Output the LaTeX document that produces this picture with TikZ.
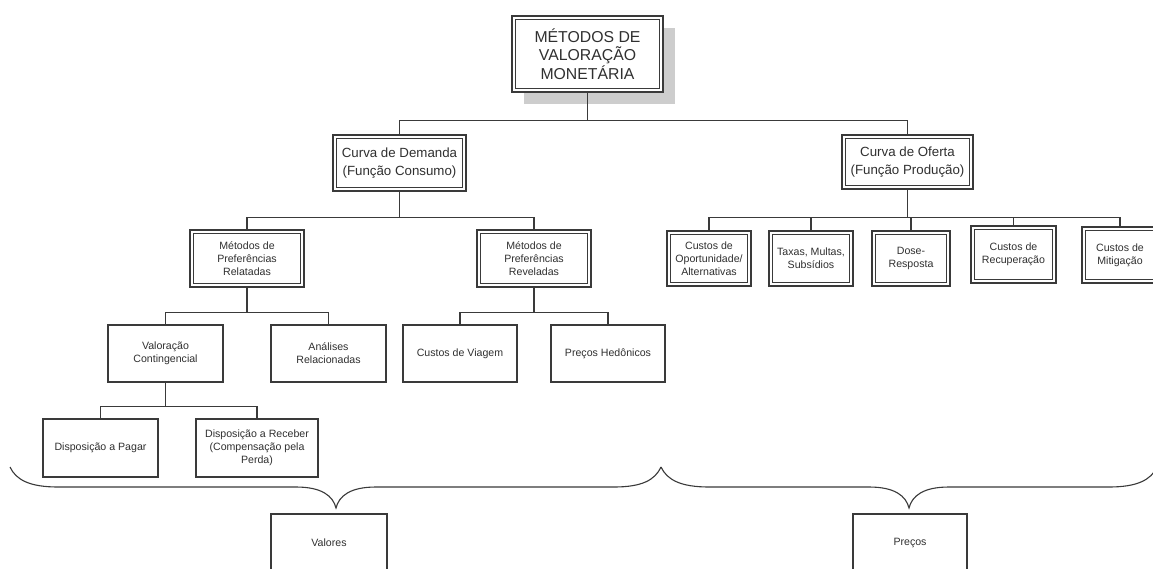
\documentclass[tikz,border=0pt]{standalone}
\usepackage{fontspec}
\setmainfont{Liberation Sans}
\usetikzlibrary{shadows}
\definecolor{linec}{HTML}{3A3A3A}
\definecolor{txtc}{HTML}{303030}
\definecolor{shadowc}{HTML}{CDCDCD}
\begin{document}
\begin{tikzpicture}[x=1pt,y=-1pt,
  plainbox/.style={draw=linec, line width=1.1pt, fill=white, inner sep=0pt,
    align=center, text=txtc, font=\fontsize{10.6}{12.8}\selectfont},
  dblbox/.style={plainbox, line width=2.3pt,
    path picture={\draw[linec, line width=0.8pt]
      ([shift={(3.3pt,-3.3pt)}]path picture bounding box.north west) rectangle
      ([shift={(-3.3pt,3.3pt)}]path picture bounding box.south east);}},
  midfont/.style={font=\fontsize{13.3}{18}\selectfont},
  topfont/.style={font=\fontsize{15.8}{18.3}\selectfont},
  conn/.style={draw=linec, line width=1.1pt},
  bracel/.style={draw=linec, line width=1.1pt}
]
\useasboundingbox (0,0) rectangle (1153,568);
\fill[white] (0,0) rectangle (1153,568);
\clip (0,0) rectangle (1153,568);

% level 0
\node[dblbox, topfont, minimum width=151pt, minimum height=76pt,
  drop shadow={shadow xshift=12pt, shadow yshift=-12pt, fill=shadowc, opacity=1}]
  (top) at (587.5,54) {MÉTODOS DE\\VALORAÇÃO\\MONETÁRIA};

% level 1
\node[dblbox, midfont, minimum width=133pt, minimum height=56pt] (dem) at (399.5,163) {Curva de Demanda\\(Função Consumo)};
\node[dblbox, midfont, minimum width=131pt, minimum height=54pt] (of) at (907.5,162) {Curva de Oferta\\(Função Produção)};

% level 2
\node[dblbox, minimum width=114pt, minimum height=57pt] (rel) at (247,258.5) {Métodos de\\Preferências\\Relatadas};
\node[dblbox, minimum width=114pt, minimum height=57pt] (rev) at (534,258.5) {Métodos de\\Preferências\\Reveladas};
\node[dblbox, minimum width=84pt, minimum height=55pt] (op) at (709,258.5) {Custos de\\Oportunidade/\\Alternativas};
\node[dblbox, minimum width=84pt, minimum height=55pt] (tax) at (811,258.5) {Taxas, Multas,\\Subsídios};
\node[dblbox, minimum width=78pt, minimum height=55pt] (dose) at (911,258.5) {Dose-\\Resposta};
\node[dblbox, minimum width=85pt, minimum height=57pt] (rec) at (1013.5,254.5) {Custos de\\Recuperação};
\node[dblbox, minimum width=76pt, minimum height=56pt] (mit) at (1120,255) {Custos de\\Mitigação};

% level 3
\node[plainbox, minimum width=115pt, minimum height=57pt] (val) at (165.5,353.5) {Valoração\\Contingencial};
\node[plainbox, minimum width=115pt, minimum height=57pt] (ana) at (328.5,353.5) {Análises\\Relacionadas};
\node[plainbox, minimum width=114pt, minimum height=57pt] (via) at (460,353.5) {Custos de Viagem};
\node[plainbox, minimum width=114pt, minimum height=57pt] (hed) at (608,353.5) {Preços Hedônicos};

% level 4
\node[plainbox, minimum width=115pt, minimum height=58pt] (pag) at (100.5,448) {Disposição a Pagar};
\node[plainbox, minimum width=122pt, minimum height=58pt] (rcb) at (257,448) {Disposição a Receber\\(Compensação pela\\Perda)};

% result boxes
\node[plainbox, minimum width=116pt, minimum height=58pt] (valores) at (329,543) {Valores};
\node[plainbox, minimum width=114pt, minimum height=58pt] (precos) at (910,543) {Preços};

% connectors
\draw[conn] (top.south) -- ++(0,27) coordinate (b1);
\draw[conn] (dem.north) |- (b1) -| (of.north);

\draw[conn] (dem.south) -- ++(0,25) coordinate (b2);
\draw[conn] (rel.north) |- (b2) -| (rev.north);

\draw[conn] (of.south) -- ++(0,27) coordinate (b3);
\draw[conn] (op.north) |- (b3) -| (mit.north);
\draw[conn] (tax.north) -- (tax.north |- b3);
\draw[conn] (dose.north) -- (dose.north |- b3);
\draw[conn] (rec.north) -- (rec.north |- b3);

\draw[conn] (rel.south) -- ++(0,24) coordinate (b4);
\draw[conn] (val.north) |- (b4) -| (ana.north);

\draw[conn] (rev.south) -- ++(0,24) coordinate (b5);
\draw[conn] (via.north) |- (b5) -| (hed.north);

\draw[conn] (val.south) -- ++(0,24) coordinate (b6);
\draw[conn] (pag.north) |- (b6) -| (rcb.north);

% braces
\draw[bracel] (10,467) .. controls (16,480) and (30,487) .. (58,487) -- (296,487)
  .. controls (322,487) and (333,496) .. (336,508)
  .. controls (339,496) and (350,487) .. (376,487) -- (614,487)
  .. controls (642,487) and (655,480) .. (661,467);
\draw[bracel] (661,467) .. controls (667,480) and (681,487) .. (709,487) -- (869,487)
  .. controls (895,487) and (906,496) .. (909,508)
  .. controls (912,496) and (923,487) .. (949,487) -- (1109,487)
  .. controls (1137,487) and (1151,480) .. (1157,467);
\end{tikzpicture}
\end{document}
